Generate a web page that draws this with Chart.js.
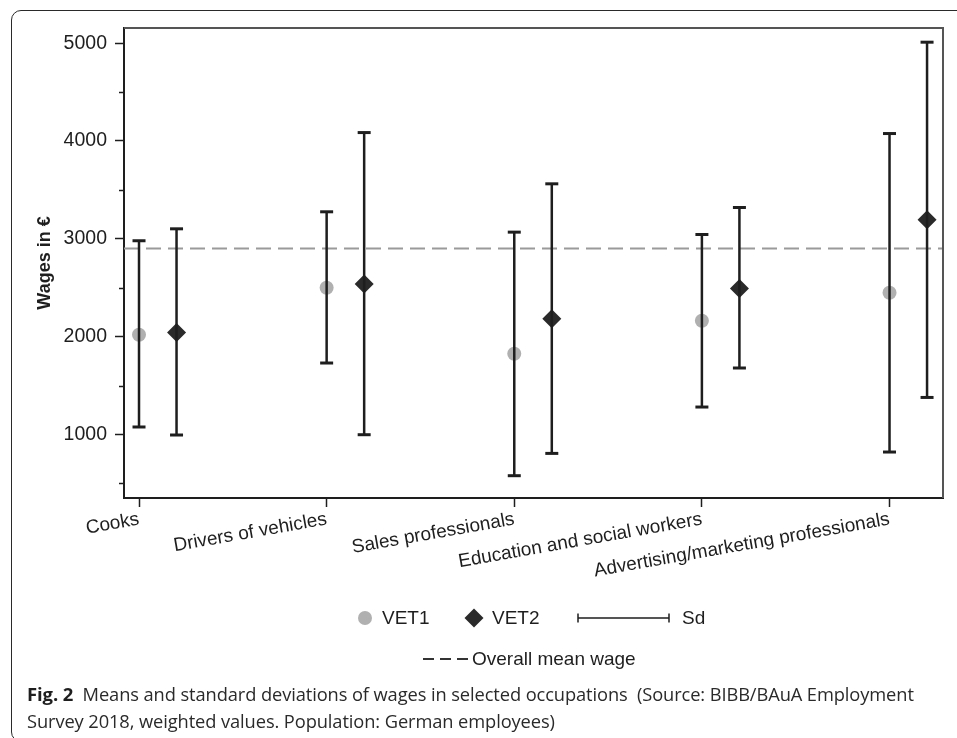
<!DOCTYPE html>
<html>
<head>
<meta charset="utf-8">
<script src="https://cdn.jsdelivr.net/npm/chart.js@4.4.1/dist/chart.umd.min.js"></script>
<style>
html,body{margin:0;padding:0;background:#fff;width:957px;height:738px;overflow:hidden;position:relative;}
#frame{position:absolute;left:11px;top:10px;width:1000px;height:732px;border:1.5px solid #2a2a2a;border-radius:10px;box-sizing:border-box;}
#c{position:absolute;left:0;top:0;}
#cap{position:absolute;left:27px;top:680px;font-family:"Open Sans",sans-serif;font-size:18.3px;line-height:27px;color:#2a2a2a;white-space:nowrap;letter-spacing:-0.1px;}
#cap b{font-size:18.5px;color:#1e1e1e;}
</style>
</head>
<body>
<div id="frame"></div>
<canvas id="c" width="957" height="738"></canvas>
<div id="cap"><b>Fig. 2</b>&nbsp; Means and standard deviations of wages in selected occupations &nbsp;(Source: BIBB/BAuA Employment<br>Survey 2018, weighted values. Population: German employees)</div>
<script>
// ---- data ----
const categories = ["Cooks", "Drivers of vehicles", "Sales professionals", "Education and social workers", "Advertising/marketing professionals"];
const vet1Mean = [2019, 2499, 1825, 2162, 2448];
const vet1Low  = [1076, 1730, 578, 1280, 820];
const vet1High = [2980, 3276, 3068, 3044, 4076];
const vet2Mean = [2042, 2537, 2182, 2492, 3194];
const vet2Low  = [994, 997, 806, 1679, 1378];
const vet2High = [3102, 4086, 3562, 3320, 5010];
const overallMean = 2900;
const yMajorTicks = [1000, 2000, 3000, 4000, 5000];
const yMinorTicks = [500, 1500, 2500, 3500, 4500];
const seriesLabels = ["VET1", "VET2", "Sd", "Overall mean wage"];

// ---- layout / style ----
const X_MIN = -0.08, X_MAX = 4.285;
const Y_MIN = 350, Y_MAX = 5155;
const VET2_SHIFT = 0.2;
const FONT = "'Liberation Sans', Arial, sans-serif";
const INK = '#1e1e1e';
const VET1_COLOR = '#b0b0b0';
const VET2_COLOR = '#2a2a2a';

const pts = (means, shift) => means.map((m, i) => ({x: i + shift, y: m}));
const whiskers = (lo, hi, shift) => lo.flatMap((l, i) => [
  {x: i + shift, y: l}, {x: i + shift, y: hi[i]}, {x: i + shift, y: null}
]);

Chart.defaults.font.family = FONT;
Chart.defaults.color = INK;

const minorTicksPlugin = {
  id: 'minorTicks',
  afterDraw(chart) {
    const ctx = chart.ctx, y = chart.scales.y, a = chart.chartArea;
    ctx.save();
    ctx.strokeStyle = INK; ctx.lineWidth = 1.5;
    yMinorTicks.forEach(v => {
      const py = Math.round(y.getPixelForValue(v)) + 0.5;
      ctx.beginPath(); ctx.moveTo(a.left - 5, py); ctx.lineTo(a.left, py); ctx.stroke();
    });
    // top and right frame of plot region
    ctx.strokeStyle = '#555'; ctx.lineWidth = 2;
    ctx.beginPath();
    ctx.moveTo(a.left, a.top); ctx.lineTo(a.right, a.top); ctx.lineTo(a.right, a.bottom);
    ctx.stroke();
    ctx.restore();
  }
};

const legendPlugin = {
  id: 'customLegend',
  afterDraw(chart) {
    const ctx = chart.ctx;
    const ds = chart.data.datasets;
    ctx.save();
    ctx.font = '19px ' + FONT;
    ctx.fillStyle = INK;
    ctx.textBaseline = 'middle';
    ctx.textAlign = 'left';
    const y1 = 618, y2 = 659;
    // VET1 marker
    ctx.fillStyle = ds[0].backgroundColor;
    Chart.helpers.drawPoint(ctx, {pointStyle: 'circle', radius: 7, borderWidth: 0, rotation: 0}, 365, y1);
    ctx.fillStyle = INK;
    ctx.fillText(ds[0].label, 382, y1 + 1);
    // VET2 marker
    ctx.fillStyle = ds[1].backgroundColor;
    Chart.helpers.drawPoint(ctx, {pointStyle: 'rectRot', radius: 9.5, borderWidth: 0, rotation: 0}, 474, y1);
    ctx.fillStyle = INK;
    ctx.fillText(ds[1].label, 492, y1 + 1);
    // Sd
    ctx.strokeStyle = INK; ctx.lineWidth = 1.5;
    ctx.beginPath();
    ctx.moveTo(578, y1); ctx.lineTo(669, y1);
    ctx.moveTo(578, y1 - 4.5); ctx.lineTo(578, y1 + 4.5);
    ctx.moveTo(669, y1 - 4.5); ctx.lineTo(669, y1 + 4.5);
    ctx.stroke();
    ctx.fillText(ds[2].label, 682, y1 + 1);
    // mean line
    ctx.setLineDash([11, 6]);
    ctx.lineWidth = 2;
    ctx.strokeStyle = '#333';
    ctx.beginPath(); ctx.moveTo(423, y2); ctx.lineTo(468, y2); ctx.stroke();
    ctx.setLineDash([]);
    ctx.fillText(ds[4].label, 472, y2 + 1);
    ctx.restore();
  }
};

new Chart(document.getElementById('c'), {
  type: 'scatter',
  data: {
    datasets: [
      {label: seriesLabels[0], data: pts(vet1Mean, 0), backgroundColor: VET1_COLOR, borderWidth: 0,
       pointStyle: 'circle', pointRadius: 7, order: 3},
      {label: seriesLabels[1], data: pts(vet2Mean, VET2_SHIFT), backgroundColor: VET2_COLOR, borderWidth: 0,
       pointStyle: 'rectRot', pointRadius: 9.5, order: 3},
      {label: seriesLabels[2], type: 'line', data: whiskers(vet1Low, vet1High, 0), showLine: true, spanGaps: false,
       borderColor: INK, borderWidth: 2.5, pointStyle: 'line', pointRadius: 6.5, pointBorderWidth: 3,
       pointBorderColor: INK, pointBackgroundColor: INK, order: 1},
      {label: seriesLabels[2], type: 'line', data: whiskers(vet2Low, vet2High, VET2_SHIFT), showLine: true, spanGaps: false,
       borderColor: INK, borderWidth: 2.5, pointStyle: 'line', pointRadius: 6.5, pointBorderWidth: 3,
       pointBorderColor: INK, pointBackgroundColor: INK, order: 1},
      {label: seriesLabels[3], type: 'line', data: [{x: X_MIN, y: overallMean}, {x: X_MAX, y: overallMean}],
       borderColor: '#9a9a9a', borderWidth: 2, borderDash: [15, 7], pointRadius: 0, order: 2}
    ]
  },
  options: {
    responsive: false,
    animation: false,
    events: [],
    layout: {padding: {left: 0, right: 14, top: 28, bottom: 0}},
    plugins: {legend: {display: false}, tooltip: {enabled: false}},
    scales: {
      x: {
        type: 'linear', min: X_MIN, max: X_MAX,
        afterBuildTicks: s => { s.ticks = categories.map((_, i) => ({value: i})); },
        afterFit: s => { s.height = 240; },
        ticks: {callback: v => categories[v], autoSkip: false, minRotation: 10, maxRotation: 10,
                font: {size: 19}, color: INK, padding: 1},
        grid: {drawOnChartArea: false, drawTicks: true, tickLength: 9, tickColor: INK, tickWidth: 1.5},
        border: {display: true, color: INK, width: 2}
      },
      y: {
        min: Y_MIN, max: Y_MAX,
        afterBuildTicks: s => { s.ticks = yMajorTicks.map(v => ({value: v})); },
        afterFit: s => { s.width = 124; },
        ticks: {callback: v => String(v), font: {size: 19.5}, color: INK, padding: 8},
        grid: {drawOnChartArea: false, drawTicks: true, tickLength: 9, tickColor: INK, tickWidth: 1.5},
        border: {display: true, color: INK, width: 2},
        title: {display: true, text: 'Wages in €', font: {size: 18, weight: 'bold'}, color: INK, padding: {top: 34, bottom: 0}}
      }
    }
  },
  plugins: [minorTicksPlugin, legendPlugin]
});
</script>
</body>
</html>
